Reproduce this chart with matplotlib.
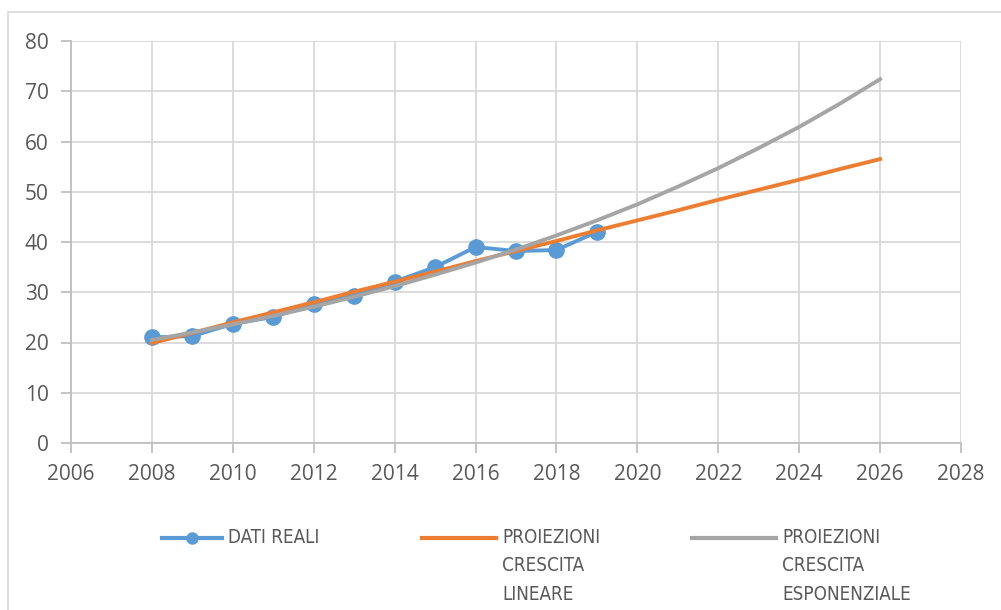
import matplotlib.pyplot as plt
from matplotlib.lines import Line2D
from matplotlib.patches import Rectangle

years_real = [2008, 2009, 2010, 2011, 2012, 2013, 2014, 2015, 2016, 2017, 2018, 2019]
values_real = [21.0, 21.3, 23.7, 25.1, 27.6, 29.3, 32.1, 35.0, 39.0, 38.2, 38.4, 42.0]

# Projections, yearly values
years_proj = list(range(2008, 2027))
values_linear = [19.9, 21.9, 24.0, 26.0, 28.0, 30.1, 32.1, 34.1, 36.2, 38.2,
                 40.2, 42.3, 44.3, 46.3, 48.4, 50.4, 52.4, 54.5, 56.5]
values_expo = [20.5, 22.0, 23.6, 25.3, 27.1, 29.1, 31.2, 33.5, 35.9, 38.5,
               41.3, 44.3, 47.5, 51.0, 54.7, 58.7, 62.9, 67.5, 72.4]

legend_labels = ["DATI REALI", "PROIEZIONI\nCRESCITA\nLINEARE",
                 "PROIEZIONI\nCRESCITA\nESPONENZIALE"]

BLUE = "#5B9BD5"
ORANGE = "#ED7D31"
GREY = "#A5A5A5"
GRID = "#D9D9D9"
TEXT = "#595959"

plt.rcParams['font.family'] = ['Open Sans', 'DejaVu Sans']

fig = plt.figure(figsize=(10.01, 6.10), dpi=100)
ax = fig.add_axes([71 / 1001, 1 - 443 / 610, 890 / 1001, 402 / 610])

# chart frame (runs past the right/bottom edge like the screenshot)
fig.patches.append(Rectangle((8 / 1001, -0.1), 1.2, 1 - 12 / 610 + 0.1,
                             transform=fig.transFigure, fill=False,
                             edgecolor=GRID, linewidth=1.2))

ax.plot(years_real, values_real, color=BLUE, lw=2.8, marker='o', ms=11,
        zorder=3, solid_joinstyle='round')
ax.plot(years_proj, values_linear, color=ORANGE, lw=2.8, zorder=4)
ax.plot(years_proj, values_expo, color=GREY, lw=2.8, zorder=4)

ax.set_xlim(2006, 2028)
ax.set_ylim(0, 80)
ax.set_xticks(range(2006, 2029, 2))
ax.set_yticks(range(0, 81, 10))
ax.grid(True, color=GRID, lw=1.3)
ax.set_axisbelow(True)

for side in ['top', 'right']:
    ax.spines[side].set_visible(False)
for side in ['left', 'bottom']:
    ax.spines[side].set_color('#BFBFBF')
    ax.spines[side].set_linewidth(1.3)

ax.tick_params(axis='both', colors='#BFBFBF', labelcolor=TEXT, labelsize=15,
               length=7, width=1.3)
ax.tick_params(axis='x', pad=8)
ax.tick_params(axis='y', pad=9)

# legend at the bottom, drawn by hand to get Excel's layout
leg_y = 1 - 538 / 610
entries = [
    (162, 222, 228, BLUE, True),
    (422, 496, 502, ORANGE, False),
    (692, 776, 782, GREY, False),
]
for (x0, x1, xt, col, mark), lab in zip(entries, legend_labels):
    fig.add_artist(Line2D([x0 / 1001, x1 / 1001], [leg_y, leg_y],
                          transform=fig.transFigure, color=col, lw=3))
    if mark:
        fig.add_artist(Line2D([(x0 + x1) / 2002], [leg_y],
                              transform=fig.transFigure, color=col,
                              marker='o', ms=8))
    fig.text(xt / 1001, leg_y + 10 / 610, lab, ha='left', va='top',
             fontsize=13.5, color=TEXT, linespacing=1.62,
             family=['DejaVu Sans'], fontstretch='condensed')

fig.savefig('out.png', dpi=100)
